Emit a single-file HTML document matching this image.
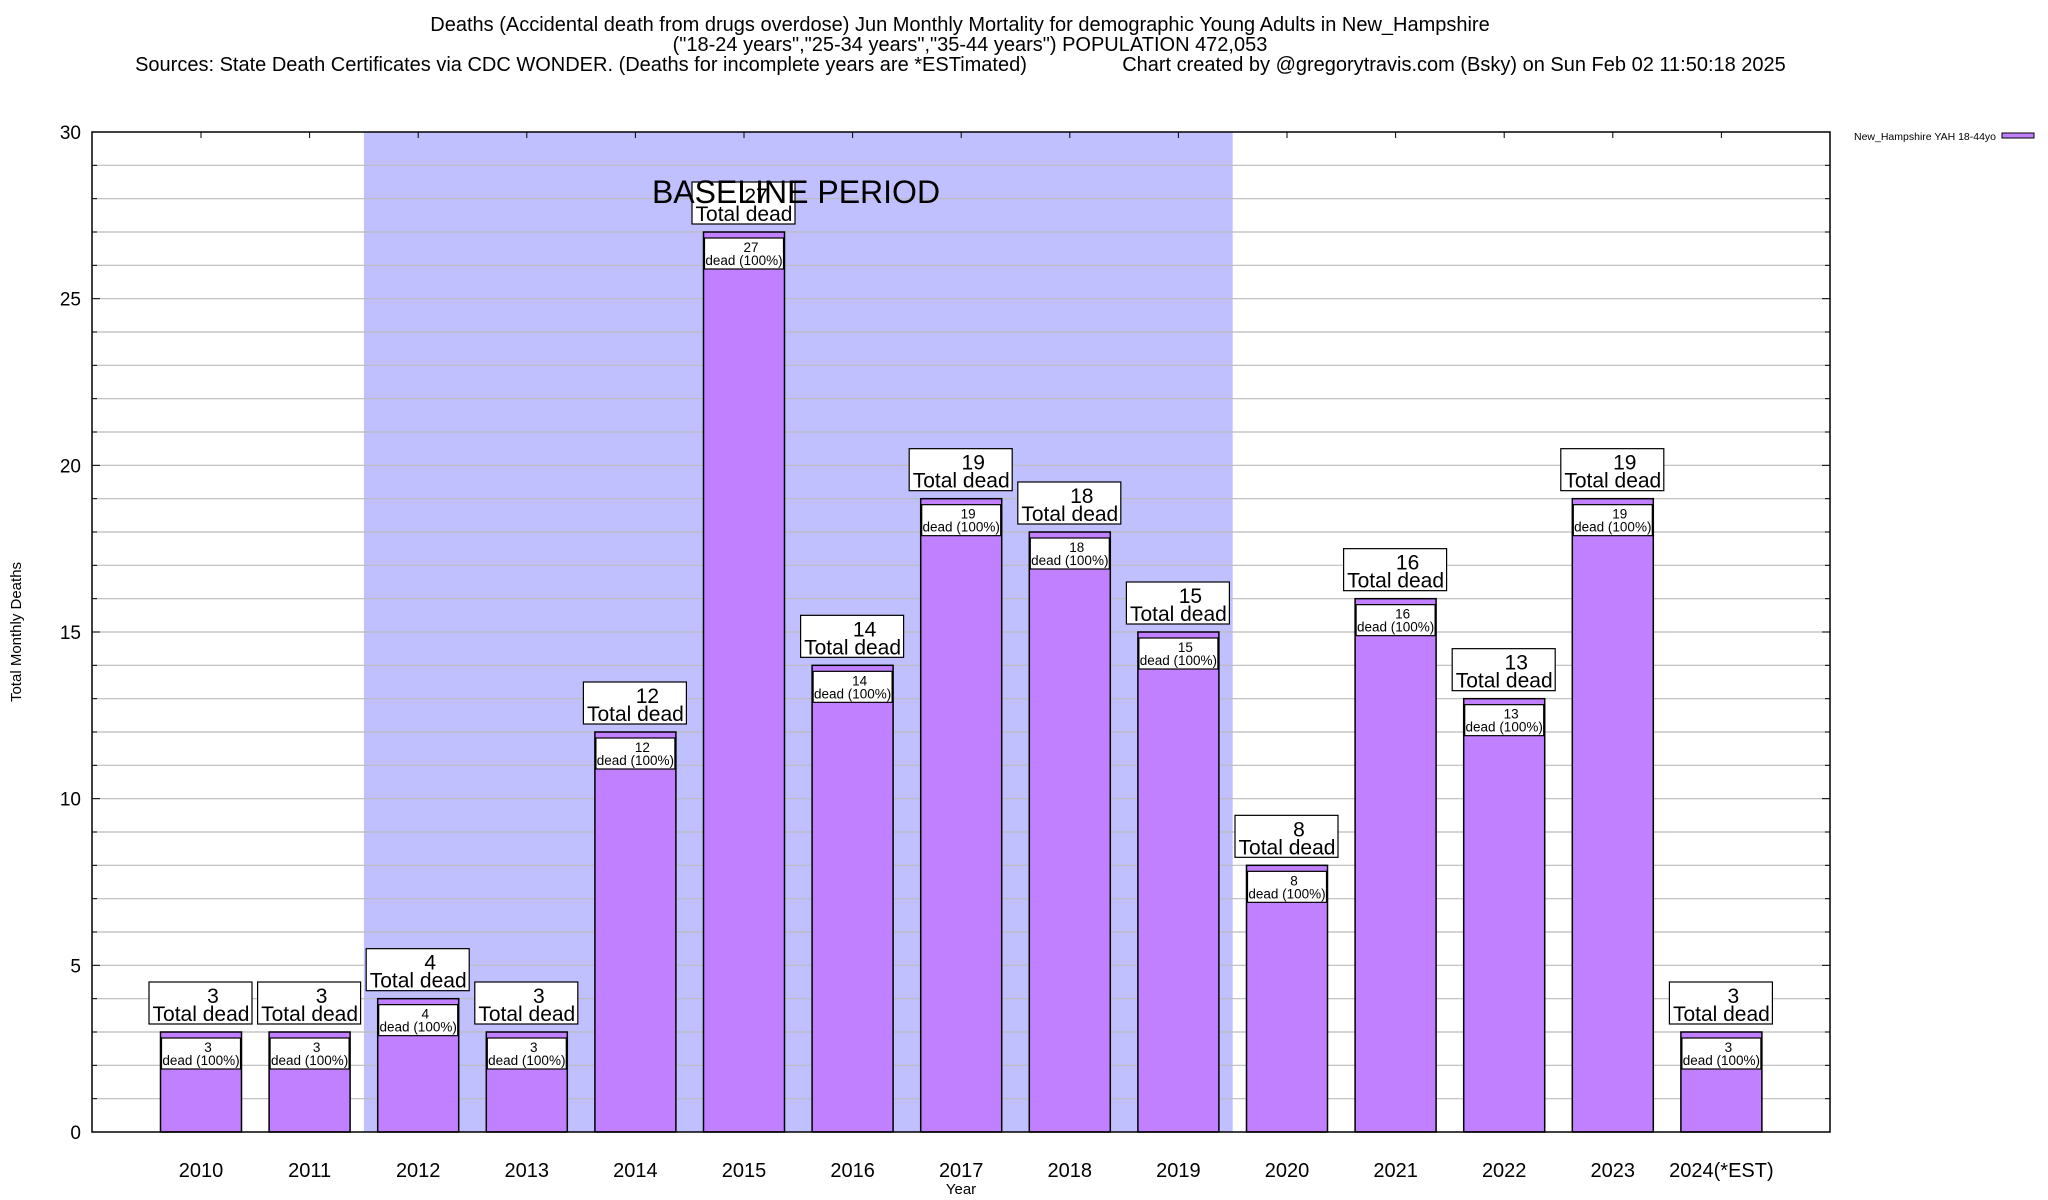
<!DOCTYPE html>
<html><head><meta charset="utf-8"><style>
html,body{margin:0;padding:0;background:#fff;}
svg{display:block;font-family:"Liberation Sans",Arial,sans-serif;}
</style></head><body>
<svg id="chart" width="2048" height="1200" viewBox="0 0 2048 1200" xmlns="http://www.w3.org/2000/svg">
<g font-size="20" text-anchor="middle" fill="#000">
<text x="960" y="31">Deaths (Accidental death from drugs overdose) Jun Monthly Mortality for demographic Young Adults in New_Hampshire</text>
<text x="970" y="51">("18-24 years","25-34 years","35-44 years") POPULATION 472,053</text>
<text x="581" y="71">Sources: State Death Certificates via CDC WONDER. (Deaths for incomplete years are *ESTimated)</text>
<text x="1454" y="71">Chart created by @gregorytravis.com (Bsky) on Sun Feb 02 11:50:18 2025</text>
</g>
<g id="plot"></g>
<g>
<text x="1854" y="140" font-size="10.5">New_Hampshire YAH 18-44yo</text>
<rect x="2002" y="133" width="32" height="5" fill="#c080ff" stroke="#000" stroke-width="1"/>
</g>
<text x="0" y="0" font-size="15" text-anchor="middle" transform="translate(21,632) rotate(-90)">Total Monthly Deaths</text>
<text x="961" y="1194" font-size="15" text-anchor="middle">Year</text>
</svg>
<script>
const categories=["2010","2011","2012","2013","2014","2015","2016","2017","2018","2019","2020","2021","2022","2023","2024(*EST)"];
const values=[3,3,4,3,12,27,14,19,18,15,8,16,13,19,3];
const yTicks=[0,5,10,15,20,25,30];
const baselineStart=2, baselineEnd=9;
const NS="http://www.w3.org/2000/svg";
const L=92,R=1830,T=132,B=1132,yMax=30;
const step=108.6,c0=201,bw=81;
const y=v=>B-(v/yMax)*(B-T);
const x=i=>c0+i*step;
const g=document.getElementById('plot');
function mk(tag,a,parent){const e=document.createElementNS(NS,tag);for(const k in a)e.setAttribute(k,a[k]);(parent||g).appendChild(e);return e;}
const band=mk('rect',{x:x(baselineStart)-step/2,y:T,width:(baselineEnd-baselineStart+1)*step,height:B-T,fill:'#c0c0ff'});


for(let v=1;v<yMax;v++){
  const ln=mk('line',{x1:L,x2:R,y1:y(v),y2:y(v),stroke:'#bbb','stroke-width':1.2});
  
  
  const t1=mk('line',{x1:L,x2:L+(v%5==0?8:5),y1:y(v),y2:y(v),stroke:'#000','stroke-width':1});
  
  
  const t2=mk('line',{x1:R,x2:R-(v%5==0?8:5),y1:y(v),y2:y(v),stroke:'#000','stroke-width':1});
  
  
}
yTicks.forEach(v=>{
  const t=mk('text',{x:81,y:y(v)+7,'font-size':19,'text-anchor':'end'});t.textContent=v;
  
  
});
const bl=mk('text',{x:796,y:203,'font-size':32,'text-anchor':'middle'});bl.textContent='BASELINE PERIOD';


categories.forEach((c,i)=>{
  const cx=x(i),top=y(values[i]);
  const tt=mk('line',{x1:cx,x2:cx,y1:T,y2:T+6,stroke:'#000','stroke-width':1});
  
  
  const bar=mk('rect',{x:cx-bw/2,y:top,width:bw,height:B-top,fill:'#c080ff',stroke:'#000','stroke-width':1.5});
  
  
  const ib=mk('rect',{x:cx-bw/2+1,y:top+6,width:bw-2,height:31,fill:'#fff',stroke:'#000','stroke-width':1.2});
  
  
  const n1=mk('text',{x:cx+7,y:top+20,'font-size':13.5,'text-anchor':'middle'});n1.textContent=values[i];
  
  
  const n2=mk('text',{x:cx,y:top+33,'font-size':13.5,'text-anchor':'middle'});n2.textContent='dead (100%)';
  
  
  const ob=mk('rect',{x:cx-52,y:top-50,width:103,height:42,fill:'#fff',stroke:'#000','stroke-width':1.2});
  
  
  const t1=mk('text',{x:cx+12,y:top-29,'font-size':21,'text-anchor':'middle'});t1.textContent=values[i];
  
  
  const t2=mk('text',{x:cx,y:top-11,'font-size':21,'text-anchor':'middle'});t2.textContent='Total dead';
  
  
  const xl=mk('text',{x:cx,y:1177,'font-size':20,'text-anchor':'middle'});xl.textContent=c;
  
  
});
const fr=mk('rect',{x:L,y:T,width:R-L,height:B-T,fill:'none',stroke:'#000','stroke-width':1.5});


g.appendChild(bl);
</script>
</body></html>
